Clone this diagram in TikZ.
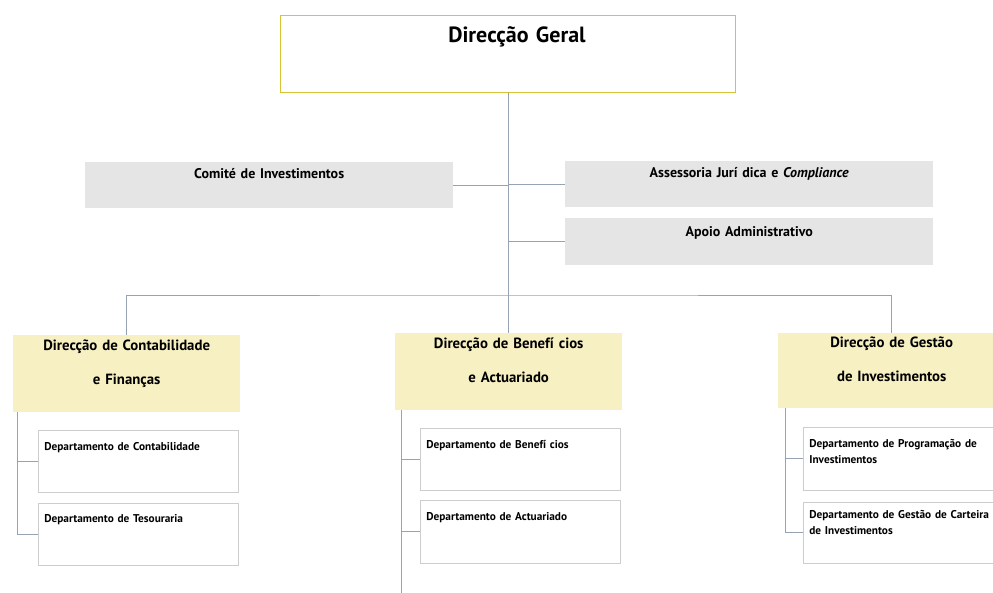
\documentclass[tikz,border=0pt]{standalone}
\usepackage{fontspec}
\setmainfont{PT Sans}
\definecolor{headline}{RGB}{214,196,52}
\definecolor{headfill}{RGB}{247,240,194}
\definecolor{stafffill}{RGB}{229,229,229}
\definecolor{deptline}{RGB}{205,205,205}
\definecolor{linkline}{RGB}{150,163,178}
\begin{document}
\begin{tikzpicture}[x=1pt, y=-1pt,
  every node/.style={anchor=north west, inner sep=0pt, font=\bfseries},
  topbox/.style={draw=headline, line width=1pt, text width=455pt, align=center,
    text height=27pt, text depth=50pt, font=\bfseries\fontsize{22}{24}\selectfont},
  staffbox/.style={fill=stafffill, text width=368pt, align=center,
    text height=16pt, text depth=30pt, font=\bfseries\fontsize{14}{17}\selectfont},
  dirbox/.style={fill=headfill, text width=227pt, align=center,
    text height=15pt, text depth=62pt, font=\bfseries\fontsize{14.8}{34}\selectfont},
  deptbox/.style={draw=deptline, line width=0.6pt, inner xsep=6pt, text width=188pt, align=left,
    text height=20pt, text depth=42pt, font=\bfseries\fontsize{11.3}{16.5}\selectfont},
  link/.style={draw=linkline, line width=0.8pt}]
\clip (0,0) rectangle (993,592);
\node[topbox] (dg) at (280,15) {\hspace*{18pt}Direcção Geral};
\node[staffbox] (ci) at (85,162) {Comité de Investimentos};
\node[staffbox] (ajc) at (565,161) {Assessoria Jurí dica e \textit{Compliance}};
\node[staffbox, text height=18pt, text depth=29pt] (aa) at (565,218) {Apoio Administrativo};
\node[dirbox] (dcf) at (13,335) {Direcção de Contabilidade\\e Finanças};
\node[dirbox] (dba) at (395,333) {Direcção de Benefí cios\\e Actuariado};
\node[dirbox, text height=14pt, text depth=61pt] (dgi) at (778,333) {Direcção de Gestão\\de Investimentos};
\node[deptbox] (dc) at (38,430) {Departamento de Contabilidade};
\node[deptbox, text height=19pt, text depth=43pt] (dt) at (38,503) {Departamento de Tesouraria};
\node[deptbox] (db) at (420,428) {Departamento de Benefí cios};
\node[deptbox, text depth=43pt] (da) at (420,500) {Departamento de Actuariado};
\node[deptbox, text depth=43pt] (dpi) at (803,427) {Departamento de Programação de\\Investimentos};
\node[deptbox, text height=16pt, text depth=45pt] (dgc) at (803,502) {Departamento de Gestão de Carteira\\de Investimentos};
\coordinate (bus) at (509,295);
\coordinate (cfspine) at ([xshift=4pt]dcf.south west);
\coordinate (baspine) at ([xshift=6pt]dba.south west);
\coordinate (baend) at (401,600);
\coordinate (gispine) at ([xshift=7pt]dgi.south west);
\draw[link] (dg.south) -- (dg.south |- dba.north);
\draw[link] (dcf.north) |- (bus) -| (dgi.north);
\draw[link] (ci.east) -- (ci.east -| dg.south);
\draw[link] (ajc.west) -- (ajc.west -| dg.south);
\draw[link] (aa.west) -- (aa.west -| dg.south);
\draw[link] (cfspine) |- (dc.west);
\draw[link] (cfspine) |- (dt.west);
\draw[link] (baspine) -- (baend);
\draw[link] (baspine) |- (db.west);
\draw[link] (baspine) |- (da.west);
\draw[link] (gispine) |- (dpi.west);
\draw[link] (gispine) |- (dgc.west);
\end{tikzpicture}
\end{document}
